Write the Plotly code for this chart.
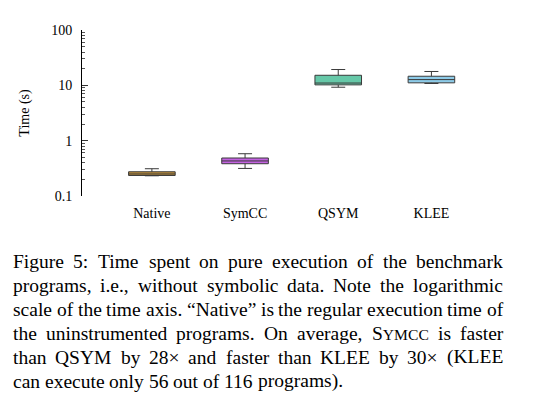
import plotly.graph_objects as go

# ---------------- data ----------------
categories = ["Native", "SymCC", "QSYM", "KLEE"]
q1_vals = [0.235, 0.383, 10.2, 11.1]
median_vals = [0.25, 0.43, 11.0, 12.7]
q3_vals = [0.274, 0.486, 15.2, 14.6]
lower_vals = [0.232, 0.315, 9.24, 10.8]
upper_vals = [0.311, 0.581, 19.3, 17.8]
fill_colors = ["#c4923c", "#c462e2", "#66c8a8", "#8ecbe8"]

y_tickvals = [0.1, 1, 10, 100]
y_ticktext = ["0.1", "1", "10", "100"]
y_minor = [m * d for d in (0.1, 1, 10) for m in range(2, 10)]

caption_lines = [
    "Figure 5: Time spent on pure execution of the benchmark",
    "programs, i.e., without symbolic data. Note the logarithmic",
    "scale of the time axis. \u201cNative\u201d is the regular execution time of",
    "the uninstrumented programs. On average, SYMCC is faster",
    "than QSYM by 28\u00d7 and faster than KLEE by 30\u00d7 (KLEE",
    "can execute only 56 out of 116 programs).",
]

# ---------------- layout geometry ----------------
W, H = 541, 411
L, R, T, B = 82, 478, 30, 196
SERIF = "Liberation Serif, Times New Roman, Times, serif"


def px(x):
    return (x - L) / (R - L)


def py(y):
    return (B - y) / (B - T)


fig = go.Figure()
for cat, a, m, b, lo, hi, col in zip(categories, q1_vals, median_vals, q3_vals,
                                     lower_vals, upper_vals, fill_colors):
    fig.add_trace(go.Box(
        x=[cat], q1=[a], median=[m], q3=[b], lowerfence=[lo], upperfence=[hi],
        fillcolor=col, line=dict(color="#3a3a3a", width=1),
        width=0.5, whiskerwidth=0.3, boxpoints=False, showlegend=False,
        hoverinfo="skip",
    ))

fig.update_layout(
    width=W, height=H,
    margin=dict(l=L, r=W - R, t=T, b=H - B),
    paper_bgcolor="white", plot_bgcolor="white",
    font=dict(family=SERIF, size=14, color="black"),
    xaxis=dict(
        type="category", categoryorder="array", categoryarray=categories,
        range=[-0.75, 3.5], showline=False, ticks="", showgrid=False,
        zeroline=False, ticklabelstandoff=7,
        tickfont=dict(family=SERIF, size=14, color="black"),
    ),
    yaxis=dict(
        type="log", range=[-1, 2], showline=True, linecolor="black", linewidth=1,
        ticks="inside", ticklen=6, tickwidth=1, tickcolor="#333",
        tickvals=y_tickvals, ticktext=y_ticktext, showgrid=False, zeroline=False,
        tickfont=dict(family=SERIF, size=14, color="black"),
        ticklabelstandoff=6,
        minor=dict(tickvals=y_minor, ticks="inside", ticklen=3, tickcolor="#555",
                   showgrid=False),
        title=dict(text="Time (s)", font=dict(family=SERIF, size=14), standoff=18),
    ),
)

# ---------------- justified caption ----------------
CW = {' ': 250, '!': 333, '(': 333, ')': 333, ',': 250, '-': 333, '.': 250,
      ':': 278, '\u201c': 444, '\u201d': 444, '\u00d7': 564}
for ch in "0123456789":
    CW[ch] = 500
CW.update(dict(A=722, B=667, C=667, D=722, E=611, F=556, G=722, H=722, I=333,
               J=389, K=722, L=611, M=889, N=722, O=722, P=556, Q=722, R=667,
               S=556, T=611, U=722, V=722, W=944, X=722, Y=722, Z=611))
CW.update(dict(a=444, b=500, c=444, d=500, e=444, f=333, g=500, h=500, i=278,
               j=278, k=500, l=278, m=778, n=500, o=500, p=500, q=500, r=333,
               s=389, t=278, u=500, v=500, w=722, x=500, y=500, z=444))

FS = 19.5
SC = 15.6
X0, X1 = 12, 502
LINE_Y0, LINE_DY = 261, 24


def word_width(w):
    if w == "SYMCC":
        return (CW['S'] * FS + sum(CW[c] for c in "YMCC") * SC) / 1000
    return sum(CW.get(c, 500) for c in w) * FS / 1000


def word_html(w):
    if w == "SYMCC":
        return "S<span style='font-size:%gpx'>YMCC</span>" % SC
    return w


for i, line in enumerate(caption_lines):
    words = line.split(" ")
    widths = [word_width(w) for w in words]
    last = i == len(caption_lines) - 1
    if last or len(words) < 2:
        gap = CW[' '] * FS / 1000
    else:
        gap = (X1 - X0 - sum(widths)) / (len(words) - 1)
    x = X0
    ycen = LINE_Y0 + i * LINE_DY
    for w, ww in zip(words, widths):
        fig.add_annotation(
            xref="paper", yref="paper", x=px(x), y=py(ycen),
            xanchor="left", yanchor="middle", showarrow=False,
            text=word_html(w), borderpad=0,
            font=dict(family=SERIF, size=FS, color="black"),
        )
        x += ww + gap

fig.write_html("out.html")
